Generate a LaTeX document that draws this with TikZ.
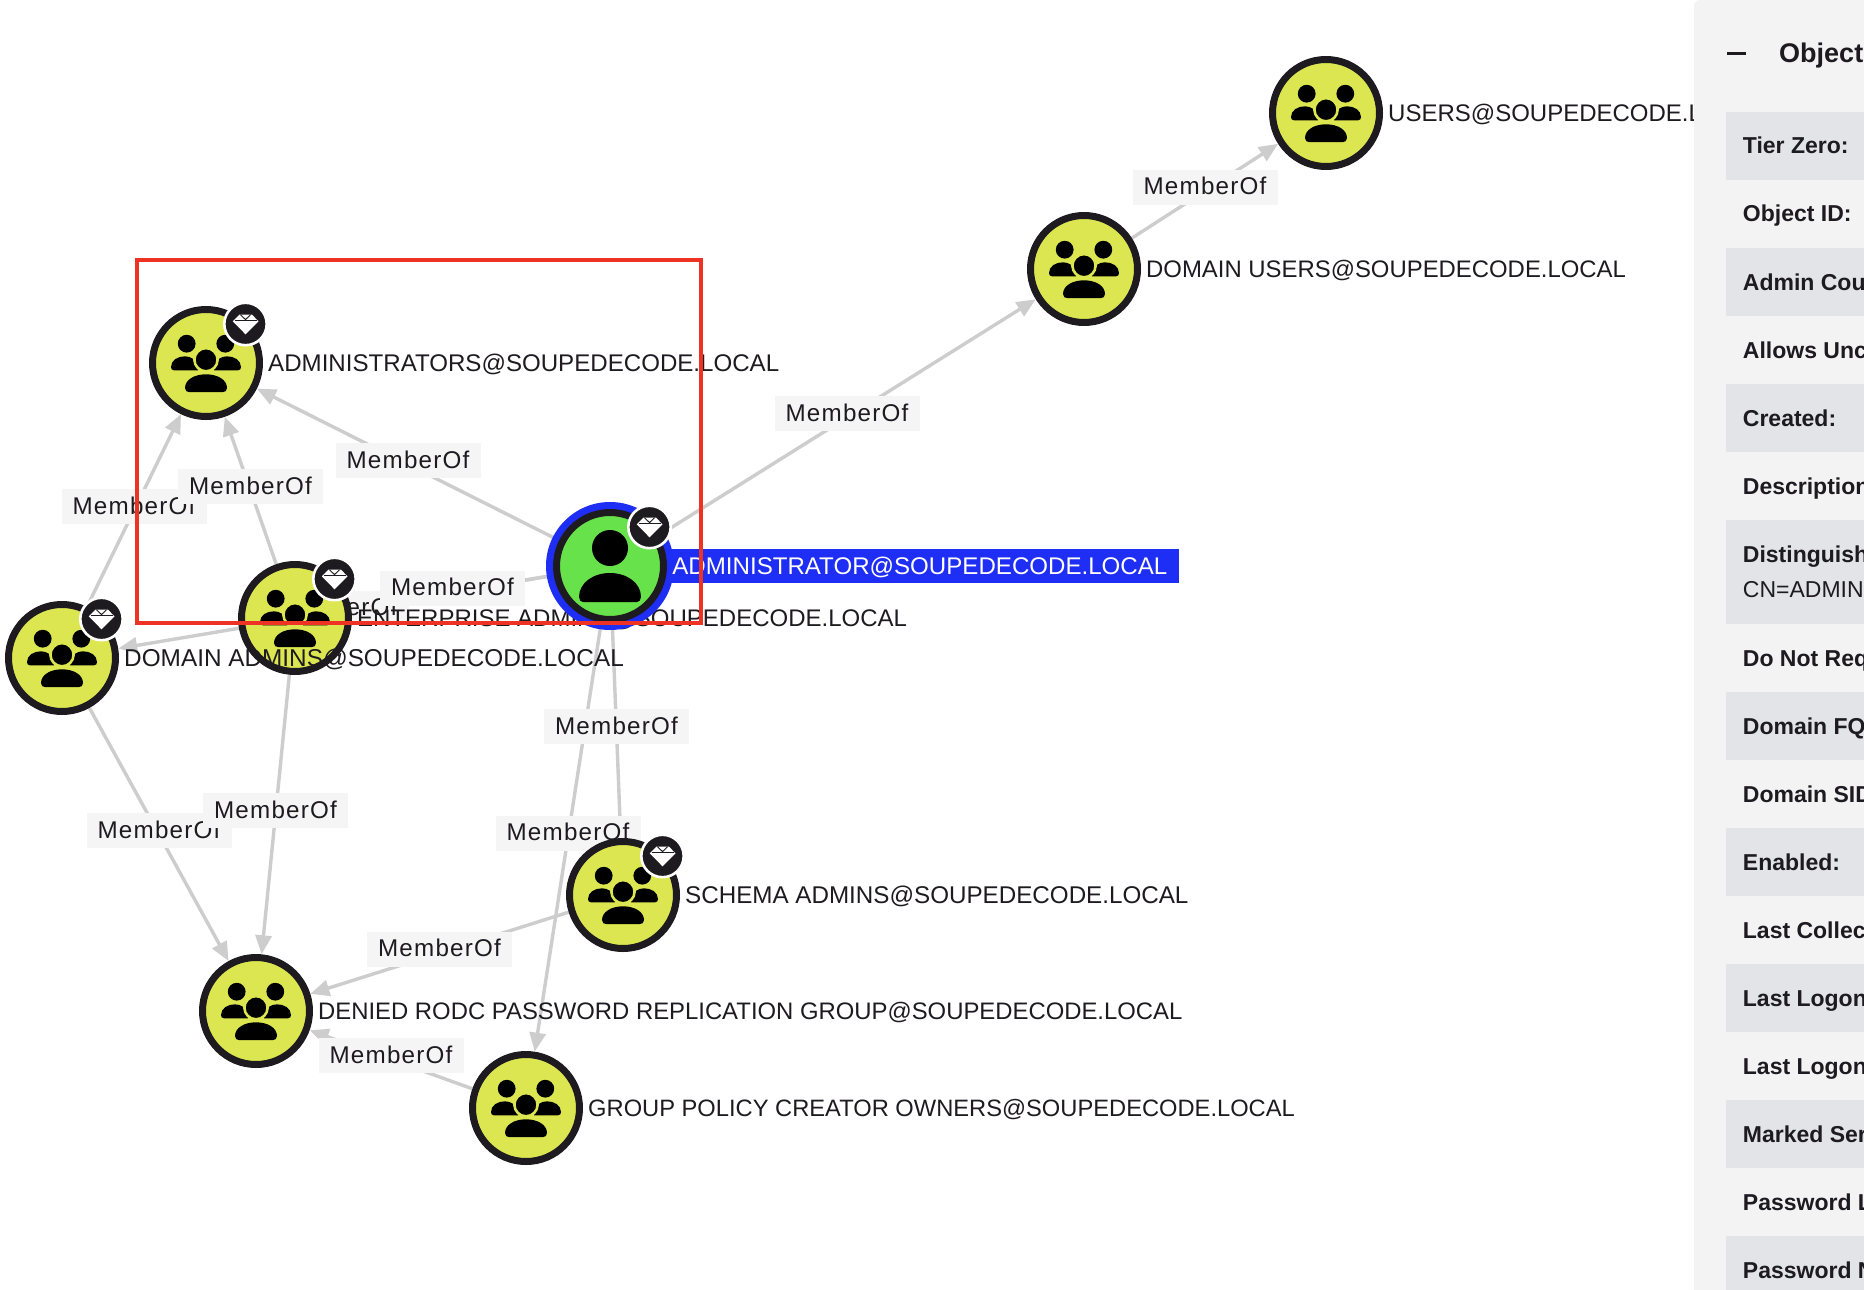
\documentclass[tikz,border=0pt]{standalone}
\usepackage{fontspec}
\setmainfont{Liberation Sans}
\newfontfamily\edgefont[LetterSpace=5]{Liberation Sans}
\usetikzlibrary{arrows.meta}
\usetikzlibrary{calc}
\usetikzlibrary{positioning}
\definecolor{inkdark}{HTML}{1E1B20}
\definecolor{groupyellow}{HTML}{DCE650}
\definecolor{usergreen}{HTML}{68E24A}
\definecolor{hlblue}{HTML}{1F2EF5}
\definecolor{edgegray}{HTML}{CDCDCD}
\definecolor{labelgray}{HTML}{F5F5F5}
\definecolor{panelgray}{HTML}{F3F3F4}
\definecolor{rowgray}{HTML}{E2E4E7}
\definecolor{framered}{HTML}{EE3325}
\pgfdeclarelayer{edgelayer}
\pgfdeclarelayer{labellayer}
\pgfsetlayers{edgelayer,labellayer,main}
\tikzset{>={Triangle[length=19pt,width=16pt]}}
\tikzset{
    groupnode/.style={circle, draw=inkdark, line width=7pt, fill=groupyellow, minimum size=107pt, inner sep=0pt},
    usernode/.style={groupnode, fill=usergreen},
    nodelabel/.style={font=\fontsize{#1}{28}\selectfont, text=inkdark, inner sep=0pt, text height=17.3pt, text depth=0pt},
    nodelabel/.default=24,
    edgelabel/.style={font=\edgefont\fontsize{24.2}{28}\selectfont, text=inkdark, fill=labelgray, inner sep=0pt, minimum width=145pt, minimum height=35pt, text height=15.5pt, text depth=0pt},
    memberedge/.style={->, draw=edgegray, line width=3.4pt},
    rowtext/.style={font=\bfseries\fontsize{23}{28}\selectfont, text=inkdark, inner sep=0pt, anchor=base west},
    groupicon/.pic={
        \fill[black] (-19.3,-19.3) circle [radius=8.9pt];
        \fill[black] (19.3,-19.3) circle [radius=8.9pt];
        \fill[black] (-35,4) .. controls (-35,-3) and (-28,-6.7) .. (-21,-6.7) .. controls (-15,-6.7) and (-10,-3) .. (-8,2) -- (-8,7.3) -- (-32,7.3) .. controls (-34,7.3) and (-35,6) .. (-35,4) -- cycle;
        \fill[black] (35,4) .. controls (35,-3) and (28,-6.7) .. (21,-6.7) .. controls (15,-6.7) and (10,-3) .. (8,2) -- (8,7.3) -- (32,7.3) .. controls (34,7.3) and (35,6) .. (35,4) -- cycle;
        \filldraw[fill=black, draw=groupyellow, line width=2.6pt] (0,-3.3) circle [radius=11.6pt];
        \fill[black] (-21,25) .. controls (-21,17) and (-12,11.3) .. (0,11.3) .. controls (12,11.3) and (21,17) .. (21,25) .. controls (21,28) and (19,29) .. (17,29) -- (-17,29) .. controls (-19,29) and (-21,28) .. (-21,25) -- cycle;
    },
    personicon/.pic={
        \fill[black] (0,-18) circle [radius=18pt];
        \fill[black] (-31,31) .. controls (-31,17) and (-17,7) .. (0,7) .. controls (17,7) and (31,17) .. (31,31) .. controls (31,34) and (29,36) .. (27,36) -- (-27,36) .. controls (-29,36) and (-31,34) .. (-31,31) -- cycle;
    },
    gembadge/.pic={
        \filldraw[fill=inkdark, draw=white, line width=2.6pt] (0,0) circle [radius=21.2pt];
        \fill[white] (-6,-9.3) -- (6.5,-9.3) -- (13,-2.7) -- (0,10.3) -- (-12.7,-2.7) -- cycle;
        \draw[inkdark, line width=0.9pt] (-5,-9.3) -- (0,-4.4) -- (5,-9.3);
        \draw[inkdark, line width=0.9pt] (-11,-3.6) -- (11,-3.6);
    }
}
\begin{document}
\begin{tikzpicture}[x=1pt, y=-1pt]
    \clip (0,0) rectangle (1864,1290);

    \node[groupnode] (users) at (1326,113) {};
    \pic at (users) {groupicon};
    \node[nodelabel, right=5pt of users] (usersText) {USERS@SOUPEDECODE.LOCAL};

    \node[groupnode] (domainusers) at (1084,269) {};
    \pic at (domainusers) {groupicon};
    \node[nodelabel=23.9, right=5pt of domainusers] (domainusersText) {DOMAIN USERS@SOUPEDECODE.LOCAL};

    \node[groupnode] (administrators) at (206,363) {};
    \pic at (administrators) {groupicon};
    \pic at ($(administrators)+(39.5,-39)$) {gembadge};
    \node[nodelabel=24.1, right=5pt of administrators] (administratorsText) {ADMINISTRATORS@SOUPEDECODE.LOCAL};

    \node[groupnode] (enterprise) at (295,618) {};
    \pic at (enterprise) {groupicon};
    \pic at ($(enterprise)+(39.5,-39)$) {gembadge};
    \node[nodelabel, right=5pt of enterprise] (enterpriseText) {ENTERPRISE ADMINS@SOUPEDECODE.LOCAL};

    \node[groupnode] (domainadmins) at (62,658) {};
    \pic at (domainadmins) {groupicon};
    \pic at ($(domainadmins)+(39.5,-39)$) {gembadge};
    \node[nodelabel=24.35, right=5pt of domainadmins] (domainadminsText) {DOMAIN ADMINS@SOUPEDECODE.LOCAL};

    \node[groupnode] (schema) at (623,895) {};
    \pic at (schema) {groupicon};
    \pic at ($(schema)+(39.5,-39)$) {gembadge};
    \node[nodelabel=24.2, right=5pt of schema] (schemaText) {SCHEMA ADMINS@SOUPEDECODE.LOCAL};

    \node[groupnode] (denied) at (256,1011) {};
    \pic at (denied) {groupicon};
    \node[nodelabel=23.87, right=5pt of denied] (deniedText) {DENIED RODC PASSWORD REPLICATION GROUP@SOUPEDECODE.LOCAL};

    \node[groupnode] (grouppolicy) at (526,1108) {};
    \pic at (grouppolicy) {groupicon};
    \node[nodelabel=23.7, right=5pt of grouppolicy] (grouppolicyText) {GROUP POLICY CREATOR OWNERS@SOUPEDECODE.LOCAL};

    % selected user sits above the rest
    \node[circle, fill=hlblue, minimum size=128pt, inner sep=0pt] (userring) at (610,566) {};
    \node[nodelabel=24.1, right=-14pt of userring, fill=hlblue, text=white, inner xsep=12pt, minimum height=34pt] (administratorText) {ADMINISTRATOR@SOUPEDECODE.LOCAL};
    \node[usernode] (administrator) at (userring) {};
    \pic at (administrator) {personicon};
    \pic at ($(administrator)+(39.5,-39)$) {gembadge};

    \begin{pgfonlayer}{edgelayer}
        \fill[white] (0,0) rectangle (1864,1290);
        \draw[memberedge] (domainusers) -- (users);
        \draw[memberedge] (administrator) -- (domainusers);
        \draw[memberedge] (administrator) -- (administrators);
        \draw[memberedge] (enterprise) -- (administrators);
        \draw[memberedge] (domainadmins) -- (administrators);
        \draw[memberedge] (administrator) -- (domainadmins);
        \draw[memberedge] (administrator) -- (enterprise);
        \draw[memberedge] (administrator) -- (schema);
        \draw[memberedge] (administrator) -- (grouppolicy);
        \draw[memberedge] (domainadmins) -- (denied);
        \draw[memberedge] (enterprise) -- (denied);
        \draw[memberedge] (schema) -- (denied);
        \draw[memberedge] (grouppolicy) -- (denied);
    \end{pgfonlayer}

    \begin{pgfonlayer}{labellayer}
        \node[edgelabel] (lblDomainUsers) at ($(domainusers)!.5!(users)+(0,-4)$) {MemberOf};
        \node[edgelabel] (lblUserDomainUsers) at ($(administrator)!.5!(domainusers)+(0,-4)$) {MemberOf};
        \node[edgelabel] (lblUserAdmins) at ($(administrator)!.5!(administrators)+(0,-4)$) {MemberOf};
        \node[edgelabel] (lblDomainAdmins) at ($(domainadmins)!.5!(administrators)+(0,-4)$) {MemberOf};
        \node[edgelabel] (lblEnterprise) at ($(enterprise)!.5!(administrators)+(0,-4)$) {MemberOf};
        \node[edgelabel] (lblUserDomainAdmins) at ($(administrator)!.5!(domainadmins)+(0,-4)$) {MemberOf};
        \node[edgelabel] (lblUserEnterprise) at ($(administrator)!.5!(enterprise)+(0,-4)$) {MemberOf};
        \node[edgelabel] (lblUserGroupPolicy) at ($(administrator)!.5!(grouppolicy)+(0,-4)$) {MemberOf};
        \node[edgelabel] (lblUserSchema) at ($(administrator)!.5!(schema)+(0,-4)$) {MemberOf};
        \node[edgelabel] (lblDomainDenied) at ($(domainadmins)!.5!(denied)+(0,-4)$) {MemberOf};
        \node[edgelabel] (lblEnterpriseDenied) at ($(enterprise)!.5!(denied)+(0,-4)$) {MemberOf};
        \node[edgelabel] (lblSchemaDenied) at ($(schema)!.5!(denied)+(0,-4)$) {MemberOf};
        \node[edgelabel] (lblGroupDenied) at ($(grouppolicy)!.5!(denied)+(0,-4)$) {MemberOf};
    \end{pgfonlayer}

    \draw[framered, line width=4pt] (137,260) rectangle (701,622.5);

    % side panel
    \fill[panelgray, rounded corners=6pt] (1694,0) rectangle (1900,1320);
    \fill[rowgray] (1726,112) rectangle (1864,180);
    \fill[rowgray] (1726,248) rectangle (1864,316);
    \fill[rowgray] (1726,384) rectangle (1864,452);
    \fill[rowgray] (1726,520) rectangle (1864,624);
    \fill[rowgray] (1726,692) rectangle (1864,760);
    \fill[rowgray] (1726,828) rectangle (1864,896);
    \fill[rowgray] (1726,964) rectangle (1864,1032);
    \fill[rowgray] (1726,1100) rectangle (1864,1168);
    \fill[rowgray] (1726,1236) rectangle (1864,1290);
    \draw[inkdark, line width=3pt] (1727,53.5) -- (1746,53.5);
    \node[rowtext, font=\bfseries\fontsize{27}{30}\selectfont] (panelTitle) at (1779,63) {Object};
    \node[rowtext] (rowTier) at (1742.7,153.5) {Tier Zero:};
    \node[rowtext] (rowObjectId) at (1742.7,221.5) {Object ID:};
    \node[rowtext] (rowAdminCount) at (1742.7,290) {Admin Cou};
    \node[rowtext] (rowAllows) at (1742.7,358) {Allows Unc};
    \node[rowtext] (rowCreated) at (1742.7,426) {Created:};
    \node[rowtext] (rowDescription) at (1742.7,494) {Description};
    \node[rowtext] (rowDistinguished) at (1742.7,562) {Distinguish};
    \node[rowtext, font=\fontsize{23}{28}\selectfont] (rowDistinguishedValue) at (1742.7,597) {CN=ADMIN};
    \node[rowtext] (rowDoNot) at (1742.7,666) {Do Not Req};
    \node[rowtext] (rowFqdn) at (1742.7,734) {Domain FQ};
    \node[rowtext] (rowSid) at (1742.7,802) {Domain SID};
    \node[rowtext] (rowEnabled) at (1742.7,870) {Enabled:};
    \node[rowtext] (rowCollected) at (1742.7,938) {Last Collec};
    \node[rowtext] (rowLogon) at (1742.7,1006) {Last Logon};
    \node[rowtext] (rowLogonTwo) at (1742.7,1074) {Last Logon};
    \node[rowtext] (rowMarked) at (1742.7,1142) {Marked Ser};
    \node[rowtext] (rowPasswordL) at (1742.7,1210) {Password L};
    \node[rowtext] (rowPasswordN) at (1742.7,1278) {Password N};
\end{tikzpicture}
\end{document}
